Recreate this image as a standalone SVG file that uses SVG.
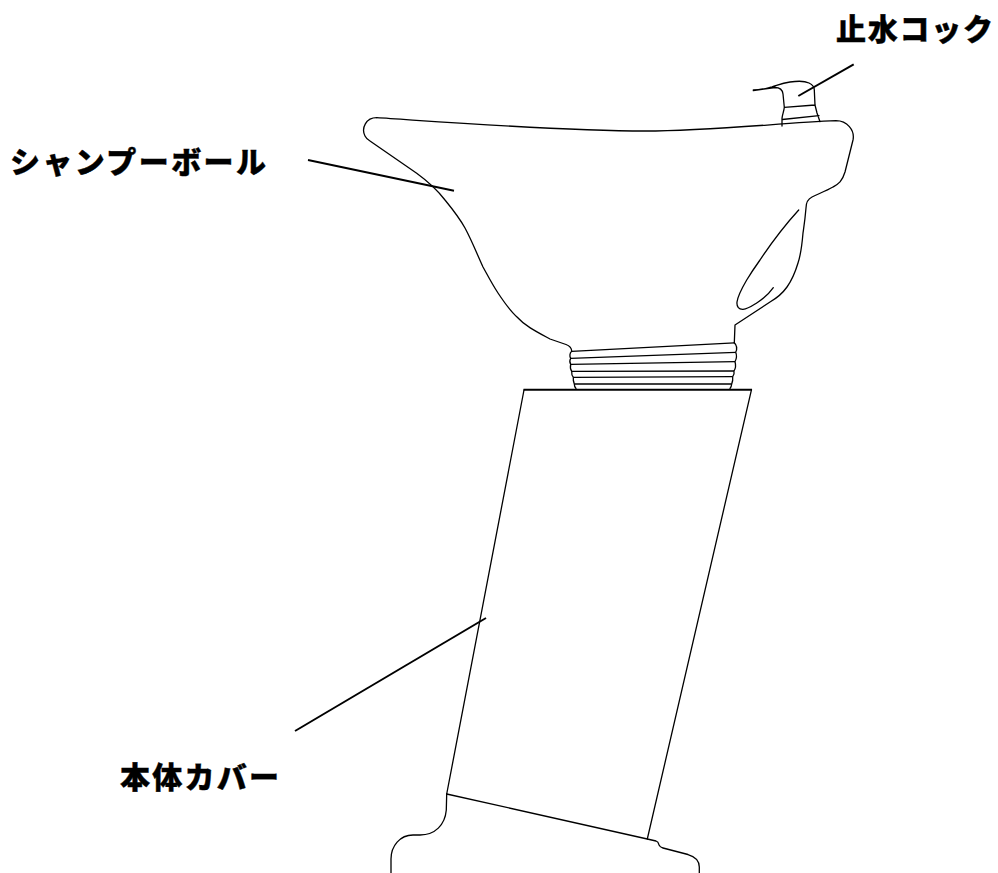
<svg xmlns="http://www.w3.org/2000/svg" width="998" height="873" viewBox="0 0 998 873">
<style>
.l{fill:none;stroke:#000;stroke-width:1.3;stroke-linecap:round;stroke-linejoin:round}
.t{stroke:#000;stroke-width:1.3;fill:none}
.c{fill:none;stroke:#000;stroke-width:2;stroke-linecap:butt}
text{font-family:"Noto Sans CJK JP","Noto Sans CJK SC",sans-serif;font-weight:900;font-size:30px;fill:#000;stroke:#000;stroke-width:.4}
</style>
<rect width="998" height="873" fill="#fff"/>
<g id="bowl">
<path class="l" d="M376.7 117.7C430 121 560 131 645 131C710 131 780 123 836 120.7C847 120.7 855 130 853 140L845 172C842 182 838 184 833 187C826 191 818 194 812 197C808 199 806 203 806 208C805 220 804 226 803 233C802 245 801 254 798 263C795 273 792 280 787 287C782 294 777 298 770 302L735 325L734.300 343"/>
<path class="l" d="M376.700 117.700C366 117.700 361 128 365 136C366 138 368 140 370 141L416.700 173.300C430 183 438 191 445 200C454 211 460 219 465 228C472 241 477 254 483 267C488 276 492 284 498 293C504 302 510 311 517 317C525 326 537 332 550 339L566 344.500C570 346 571.500 348 571.700 351"/>
<path class="l" d="M798.700 210C785 225 772 242 760 260C755 267 751 273 746.700 280C742 288 738 295 737 302C736.500 307 739 309.500 743 309.300C748 309 752 306 756.700 303C763 299 769 294 773.300 287.700"/>
</g>
<g id="thread">
<path class="t" d="M571.700 351.300L734.300 342.800M570.700 358.300L735.700 352.300M570.700 364.300L735 361.700M571.700 371.300L734 371M573.300 377.300L732.700 376.700M574.300 384L731.700 384"/>
<path class="l" d="M571.700 351.300C569.500 353 569.500 356.500 570.700 358.300C569.500 360.500 569.500 362.500 570.700 364.300C570 367 570.500 369.500 571.700 371.300C571.500 374 572 376 573.300 377.300C573 380 573.500 382 574.300 384C574.300 386 575 387.500 576 388.500M734.300 342.800C737 345.500 737 349.500 735.700 352.300C737 355.500 736.500 359 735 361.700C736 365 735.500 368.500 734 371C734.500 373.500 734 375 732.700 376.700C733 379.500 732.500 382 731.700 384C731.500 386 731 387.500 730 388.500"/>
</g>
<g id="tap">
<path class="l" d="M753.300 90C761 90 767 88 772 86.800C778 85 782 83 790 82C797 81 804 80.500 809 83C812 84.500 814.300 86.500 814.300 90L815 105L817 113L820 121.700M753.300 90.700L775 87.500C780 87.500 782.500 90 783 94L784.300 107.300C784 111 782.500 114 782 118.300L782 126M784.300 107.300L815 105M782.300 119.500L819 115.700"/>
</g>
<g id="cover">
<path class="l" d="M751.500 389.700L647.300 839M524 390L446.700 794"/>
<path class="t" d="M523.500 389.700L752 389.700" style="stroke-width:2"/>
<path class="l" d="M446.700 794L647.300 839L656 841C659 842 658.500 844 659 845C660 847 661 847.500 663 848L688 854.500C695 856.500 699.300 861 699.300 867L699.300 873"/>
<path class="l" d="M446.700 794L446.300 810C445 825 435 835 420 835L413 835C400 835 391 846 391 859L391 873"/>
</g>
<g id="connectors">
<path class="c" d="M853.700 64.300L798.300 96"/>
<path class="c" d="M308 160L454 190.700"/>
<path class="c" d="M295 731L486 618"/>
</g>
<g id="label-tap"><text x="836" y="40" textLength="157" lengthAdjust="spacing">止水コック</text></g>
<g id="label-bowl"><text x="10" y="173" textLength="256" lengthAdjust="spacing">シャンプーボール</text></g>
<g id="label-cover"><text x="120" y="788" textLength="159" lengthAdjust="spacing">本体カバー</text></g>
</svg>
